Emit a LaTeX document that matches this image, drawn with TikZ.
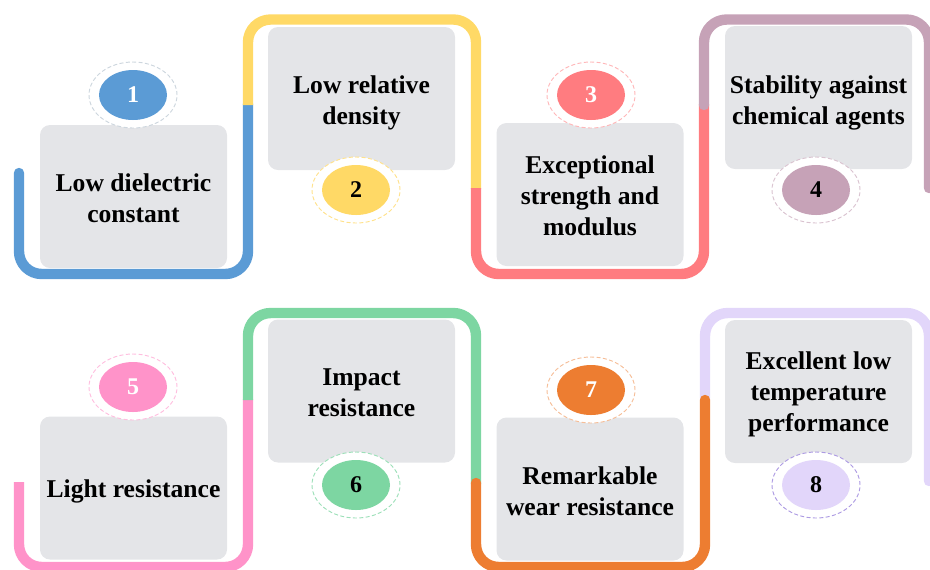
\documentclass[tikz,border=0pt]{standalone}
\usepackage{fontspec}
\setmainfont{Liberation Serif}
\usetikzlibrary{shapes.geometric}

\definecolor{cBlue}{HTML}{5B9BD5}
\definecolor{cYellow}{HTML}{FFD966}
\definecolor{cRed}{HTML}{FF7C80}
\definecolor{cMauve}{HTML}{C6A2B7}
\definecolor{cPink}{HTML}{FF93C9}
\definecolor{cGreen}{HTML}{7DD6A2}
\definecolor{cOrange}{HTML}{ED7D31}
\definecolor{cLavender}{HTML}{E2D6FA}
\definecolor{cLavRing}{HTML}{AD9BE3}
\definecolor{cardgray}{HTML}{E4E5E8}

\begin{document}
\begin{tikzpicture}[x=0.75pt,y=-0.75pt,
  track/.style={line width=7.8pt, rounded corners=17pt},
  card/.style={fill=cardgray, rounded corners=7.5pt, minimum width=140.25pt,
    minimum height=107.25pt, inner sep=0pt},
  cardtext/.style={align=center, inner sep=0pt,
    font=\bfseries\fontsize{19.2}{23.2}\selectfont},
  ring/.style={ellipse, draw=#1, fill=white, dash pattern=on 3pt off 1.8pt,
    line width=0.7pt, minimum width=66pt, minimum height=49.5pt, inner sep=0pt},
  badge/.style={ellipse, fill=#1, minimum width=51pt, minimum height=37.5pt,
    inner sep=0pt, font=\bfseries\fontsize{18}{18}\selectfont},
]
\useasboundingbox (0,0) rectangle (930,569);

% ---------- upper track ----------
\draw[track, cBlue, line cap=round] (19,173) -- (19,274) -- (248,274) -- (248,104);
\draw[track, cYellow] (248,105) -- (248,19.5) -- (476,19.5) -- (476,189);
\draw[track, cRed] (476,188) -- (476,274) -- (704,274) -- (704,104);
\draw[track, cMauve, line cap=round] (704,105) -- (704,19.5) -- (929,19.5) -- (929,188);

% ---------- lower track ----------
\draw[track, cPink] (19,482) -- (19,567) -- (248,567) -- (248,399);
\draw[track, cGreen] (248,400) -- (248,313) -- (476,313) -- (476,484);
\draw[track, cLavender, line cap=round] (705,398) -- (705,313) -- (929,313) -- (929,481);
\draw[track, cOrange, line cap=round] (476,483) -- (476,567) -- (705,567) -- (705,400);

% ---------- cards ----------
\node[card] (c1) at (133.5,196.5) {};
\node[card] (c2) at (361.5,98.5) {};
\node[card] (c3) at (590,194.5) {};
\node[card] (c4) at (818.5,97.5) {};
\node[card] (c5) at (133.5,488) {};
\node[card] (c6) at (361.5,391) {};
\node[card] (c7) at (590,489) {};
\node[card] (c8) at (818.5,391.5) {};

\node[cardtext] (t1) at ([yshift=-1.2pt]c1) {Low dielectric\\constant};
\node[cardtext] (t2) at ([yshift=-3.6pt]c2) {Low relative\\density};
\node[cardtext] (t3) at ([yshift=-1.2pt]c3) {Exceptional\\strength and\\modulus};
\node[cardtext] (t4) at ([yshift=-4.2pt]c4) {Stability against\\chemical agents};
\node[cardtext] (t5) at ([yshift=-2.8pt]c5) {Light resistance};
\node[cardtext] (t6) at ([yshift=-1.6pt]c6) {Impact\\resistance};
\node[cardtext] (t7) at ([yshift=-1.6pt]c7) {Remarkable\\wear resistance};
\node[cardtext] (t8) at ([yshift=-2.4pt]c8) {Excellent low\\temperature\\performance};

% ---------- numbered badges ----------
\node[ring=cBlue!40!gray!35!white] (r1) at (133,95) {};
\node[badge=cBlue, text=white] (b1) at (r1) {1};
\node[ring=cYellow!75!white] (r2) at (356,190) {};
\node[badge=cYellow] (b2) at (r2) {2};
\node[ring=cRed!55!white] (r3) at (591,95) {};
\node[badge=cRed, text=white] (b3) at (r3) {3};
\node[ring=cMauve!65!white] (r4) at (816,190) {};
\node[badge=cMauve] (b4) at (r4) {4};
\node[ring=cPink!60!white] (r5) at (133,387) {};
\node[badge=cPink, text=white] (b5) at (r5) {5};
\node[ring=cGreen!75!white] (r6) at (356,485) {};
\node[badge=cGreen] (b6) at (r6) {6};
\node[ring=cOrange!50!white] (r7) at (591,390) {};
\node[badge=cOrange, text=white] (b7) at (r7) {7};
\node[ring=cLavRing] (r8) at (816,485) {};
\node[badge=cLavender] (b8) at (r8) {8};
\end{tikzpicture}
\end{document}
